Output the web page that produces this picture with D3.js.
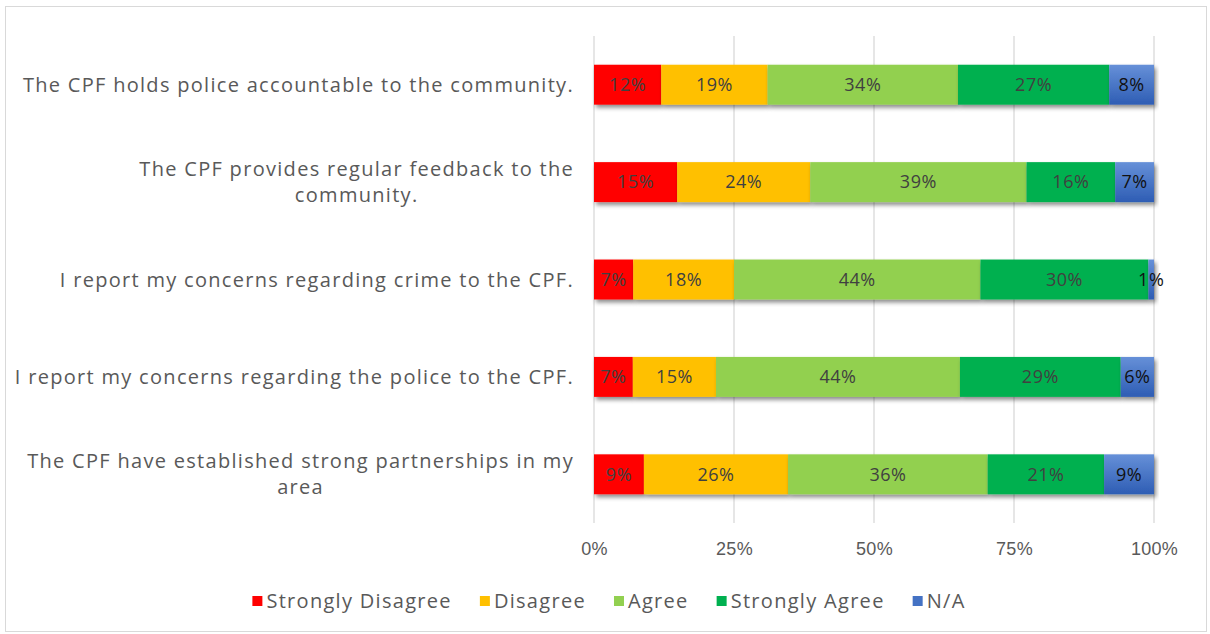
<!DOCTYPE html>
<html>
<head>
<meta charset="utf-8">
<script src="https://cdn.jsdelivr.net/npm/d3@7"></script>
<style>
  html, body { margin: 0; padding: 0; background: #fff; }
  svg { display: block; font-family: "Open Sans", "Noto Sans", sans-serif; }
</style>
</head>
<body>
<svg id="chart" width="1210" height="634"></svg>
<script>
// Survey statements, top to bottom
const statements = [
  "The CPF holds police accountable to the community.",
  "The CPF provides regular feedback to the community.",
  "I report my concerns regarding crime to the CPF.",
  "I report my concerns regarding the police to the CPF.",
  "The CPF have established strong partnerships in my area"
];
// Wrapped label lines for each statement
const statementLines = [
  ["The CPF holds police accountable to the community."],
  ["The CPF provides regular feedback to the", "community."],
  ["I report my concerns regarding crime to the CPF."],
  ["I report my concerns regarding the police to the CPF."],
  ["The CPF have established strong partnerships in my", "area"]
];
const responses = ["Strongly Disagree", "Disagree", "Agree", "Strongly Agree", "N/A"];

// Percentage of respondents per response, one array per response
const stronglyDisagree = [12, 15, 7, 7, 9];
const disagree         = [19, 24, 18, 15, 26];
const agree            = [34, 39, 44, 44, 36];
const stronglyAgree    = [27, 16, 30, 29, 21];
const notApplicable    = [8, 7, 1, 6, 9];

const tickValues = [0, 0.25, 0.5, 0.75, 1];

const colors = ["#FF0000", "#FFC000", "#92D050", "#00B050", "url(#naGrad)"];
const swatchColors = ["#FF0000", "#FFC000", "#92D050", "#00B050", "#4472C4"];
const labelColors = ["#404040", "#404040", "#404040", "#404040", "#111111"];

const seriesArrays = [stronglyDisagree, disagree, agree, stronglyAgree, notApplicable];
const rows = statements.map((s, i) => {
  const r = { statement: s };
  responses.forEach((k, j) => { r[k] = seriesArrays[j][i]; });
  return r;
});

const svg = d3.select("#chart");
const W = 1210, H = 634;

// Outer chart border
svg.append("rect")
  .attr("x", 5.5).attr("y", 6.5).attr("width", 1201).attr("height", 625)
  .attr("fill", "#fff").attr("stroke", "#D9D9D9").attr("stroke-width", 1);

const defs = svg.append("defs");
const grad = defs.append("linearGradient").attr("id", "naGrad")
  .attr("x1", 0).attr("y1", 0).attr("x2", 0).attr("y2", 1);
grad.append("stop").attr("offset", "0%").attr("stop-color", "#6690D8");
grad.append("stop").attr("offset", "100%").attr("stop-color", "#2E5DB4");

const shadow = defs.append("filter").attr("id", "barShadow")
  .attr("x", "-5%").attr("y", "-30%").attr("width", "115%").attr("height", "170%");
shadow.append("feDropShadow")
  .attr("dx", 2).attr("dy", 3).attr("stdDeviation", 2.2)
  .attr("flood-color", "#000").attr("flood-opacity", 0.45);

const margin = { left: 594, right: 56, top: 36, bottom: 111 };
const x = d3.scaleLinear().domain([0, 1]).range([margin.left, W - margin.right]);
const y = d3.scaleBand().domain(statements)
  .range([margin.top, H - margin.bottom])
  .paddingInner(0.59).paddingOuter(0.295);

// Vertical gridlines
svg.append("g")
  .selectAll("line")
  .data(tickValues)
  .join("line")
  .attr("x1", d => x(d)).attr("x2", d => x(d))
  .attr("y1", margin.top).attr("y2", H - margin.bottom)
  .attr("stroke", "#D9D9D9").attr("stroke-width", 1.3);

// Percent axis
const xAxis = svg.append("g")
  .attr("transform", `translate(0,${H - margin.bottom})`)
  .call(d3.axisBottom(x).tickValues(tickValues).tickFormat(d3.format(".0%")).tickSize(0).tickPadding(19));
xAxis.select(".domain").remove();
xAxis.selectAll("text")
  .attr("fill", "#595959").style("font-size", "18px").style("font-family", "inherit")
  .style("letter-spacing", "0.3px");

// Stacked bars, normalised to 100%
const stack = d3.stack().keys(responses).offset(d3.stackOffsetExpand);
const layers = stack(rows);

const barG = svg.append("g");
barG.selectAll("g.layer")
  .data(layers)
  .join("g")
  .attr("class", "layer")
  .attr("filter", "url(#barShadow)")
  .selectAll("rect")
  .data((d, i) => d.map(v => ({ v, i })))
  .join("rect")
  .attr("x", d => x(d.v[0]))
  .attr("width", d => x(d.v[1]) - x(d.v[0]))
  .attr("y", d => y(d.v.data.statement))
  .attr("height", y.bandwidth())
  .attr("fill", d => colors[d.i]);

// Data labels
const labelG = svg.append("g");
layers.forEach((layer, i) => {
  labelG.selectAll(null)
    .data(layer)
    .join("text")
    .attr("x", d => (x(d[0]) + x(d[1])) / 2)
    .attr("y", d => y(d.data.statement) + y.bandwidth() / 2)
    .attr("dy", "0.35em")
    .attr("text-anchor", "middle")
    .attr("fill", labelColors[i])
    .style("font-size", "18px")
    .style("letter-spacing", "0.5px")
    .text(d => d.data[layer.key] + "%");
});

// Statement labels, right aligned with wrapped lines centred on each other
const lineH = 26;
const catG = svg.append("g");
statements.forEach((s, i) => {
  const lines = statementLines[i];
  const g = catG.append("g");
  const t = g.append("text")
    .attr("fill", "#595959")
    .style("font-size", "20px")
    .style("letter-spacing", "1.3px")
    .attr("text-anchor", "middle");
  lines.forEach((ln, k) => {
    t.append("tspan")
      .attr("x", 0)
      .attr("y", (k - (lines.length - 1) / 2) * lineH)
      .attr("dy", "0.35em")
      .text(ln);
  });
  const bb = t.node().getBBox();
  const right = margin.left - 20;
  g.attr("transform", `translate(${right - bb.width / 2},${y(s) + y.bandwidth() / 2})`);
});

// Legend
const legendY = 601;
const legend = svg.append("g");
let lx = 0;
const gap = 28;
responses.forEach((r, i) => {
  const g = legend.append("g").attr("transform", `translate(${lx},0)`);
  g.append("rect").attr("x", 0).attr("y", -5).attr("width", 10).attr("height", 10)
    .attr("fill", swatchColors[i]);
  const t = g.append("text").attr("x", 14).attr("dy", "0.35em")
    .attr("fill", "#595959").style("font-size", "20px")
    .style("letter-spacing", "1.3px").text(r);
  lx += 14 + t.node().getComputedTextLength() + gap;
});
const legendW = lx - gap;
legend.attr("transform", `translate(${(W - legendW) / 2 + 4},${legendY})`);
</script>
</body>
</html>
